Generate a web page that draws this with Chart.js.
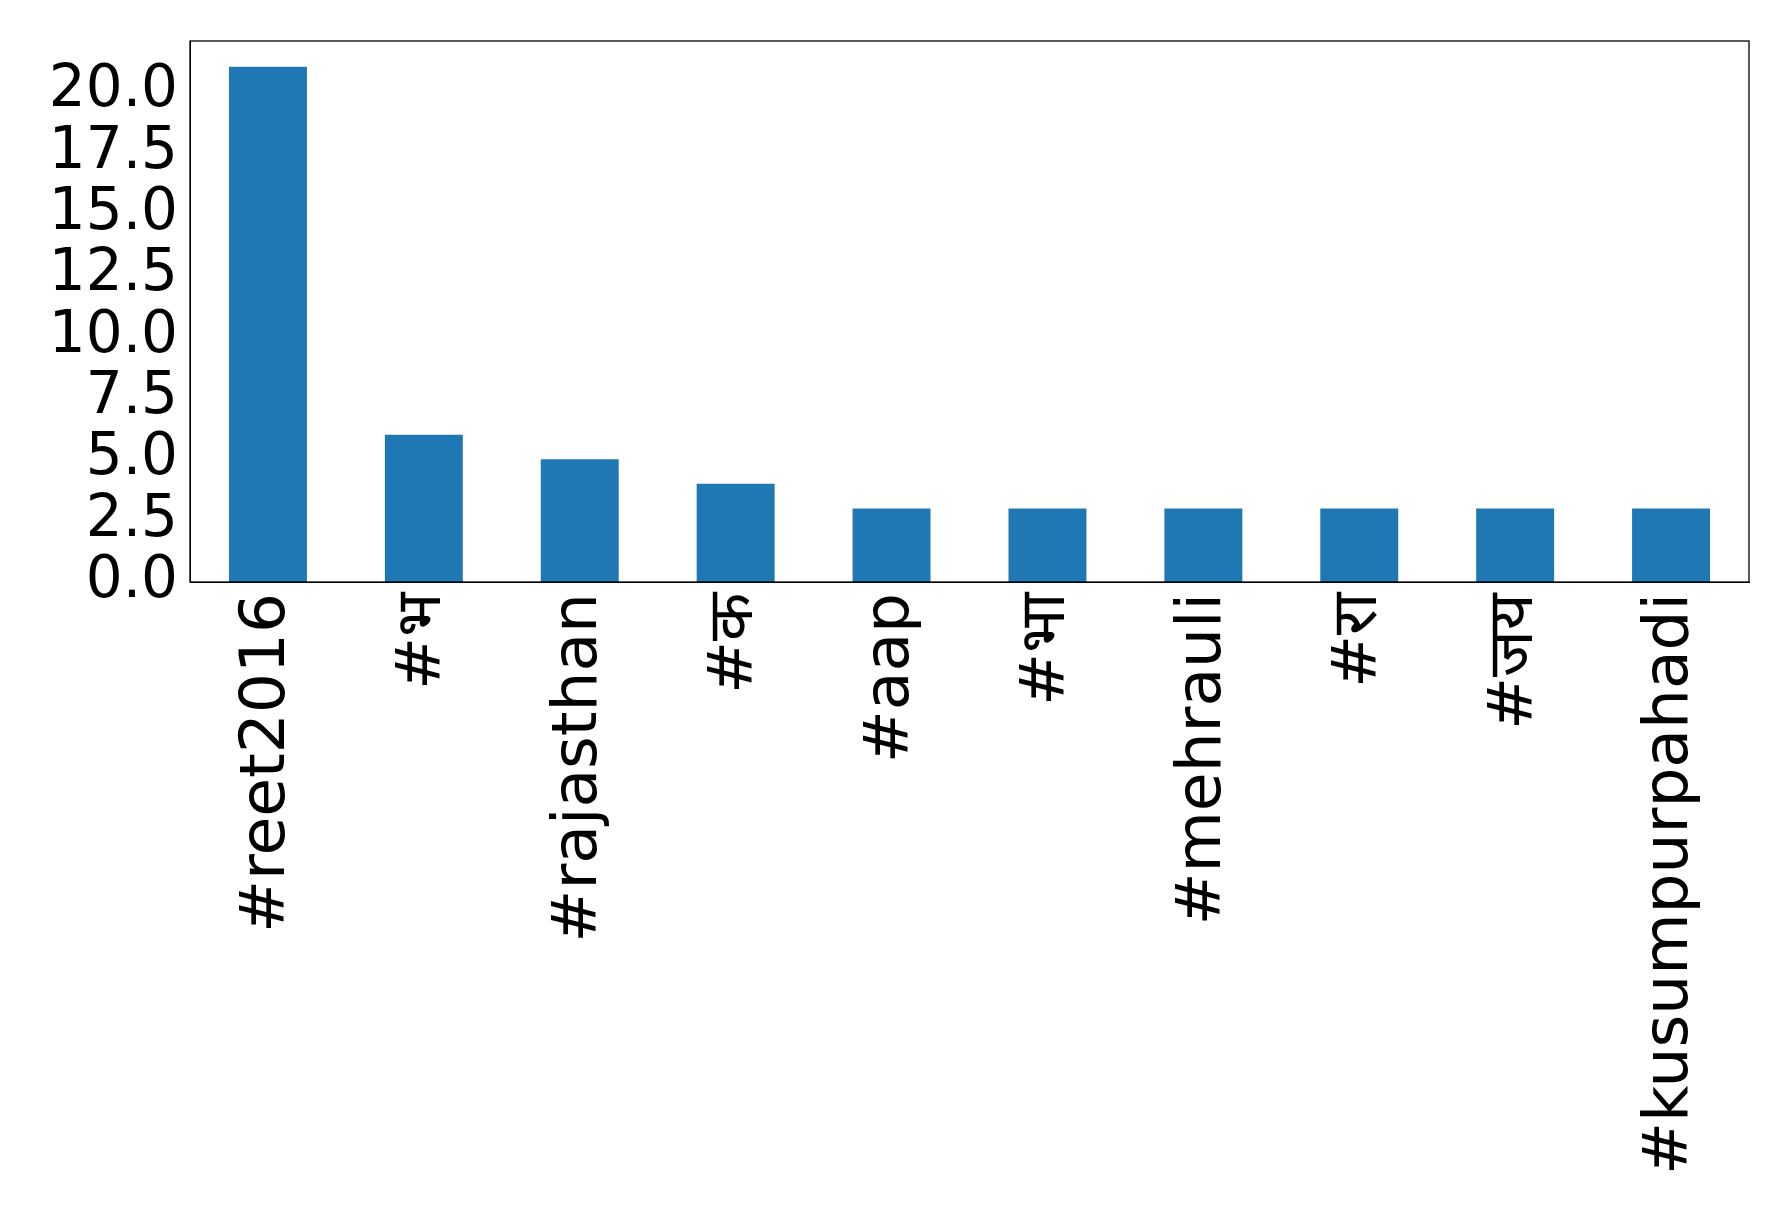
<!DOCTYPE html>
<html><head><meta charset="utf-8">
<script src="https://cdn.jsdelivr.net/npm/chart.js@4"></script>
<style>html,body{margin:0;background:#fff}#w{width:1778px;height:1205px}</style>
</head><body><div id="w"><canvas id="c"></canvas></div>
<script>
const categories = ["#reet2016","#भ","#rajasthan","#क","#aap","#भा","#mehrauli","#रा","#जय","#kusumpurpahadi"];
const counts = [21,6,5,4,3,3,3,3,3,3];
const yTicks = [0,2.5,5,7.5,10,12.5,15,17.5,20];
const frame = {id:'frame',afterDraw(c){const a=c.chartArea,x=c.ctx;x.save();x.strokeStyle='#000';x.lineWidth=1.3;x.strokeRect(a.left,a.top,a.right-a.left,a.bottom-a.top);x.restore();}};
new Chart(document.getElementById('c'),{
 type:'bar',
 data:{labels:categories,datasets:[{data:counts,backgroundColor:'#1f77b4',categoryPercentage:1,barPercentage:0.5}]},
 options:{responsive:true,maintainAspectRatio:false,animation:false,
  layout:{padding:{top:41,right:29,left:0,bottom:0}},
  plugins:{legend:{display:false},tooltip:{enabled:false}},
  scales:{
   x:{grid:{display:false,tickLength:8},border:{color:'#000'},
      ticks:{color:'#000',font:{family:'DejaVu Sans',size:63},minRotation:90,maxRotation:90,autoSkip:false},
      afterFit(s){s.height=623;}},
   y:{min:0,max:22.05,grid:{display:false,tickLength:8},border:{color:'#000'},
      afterBuildTicks(s){s.ticks=yTicks.map(v=>({value:v}));},
      ticks:{color:'#000',autoSkip:false,padding:4,font:{family:'DejaVu Sans',size:58},callback:v=>v.toFixed(1)},
      afterFit(s){s.width=190;}}
  }},
 plugins:[frame]
});
</script></body></html>
